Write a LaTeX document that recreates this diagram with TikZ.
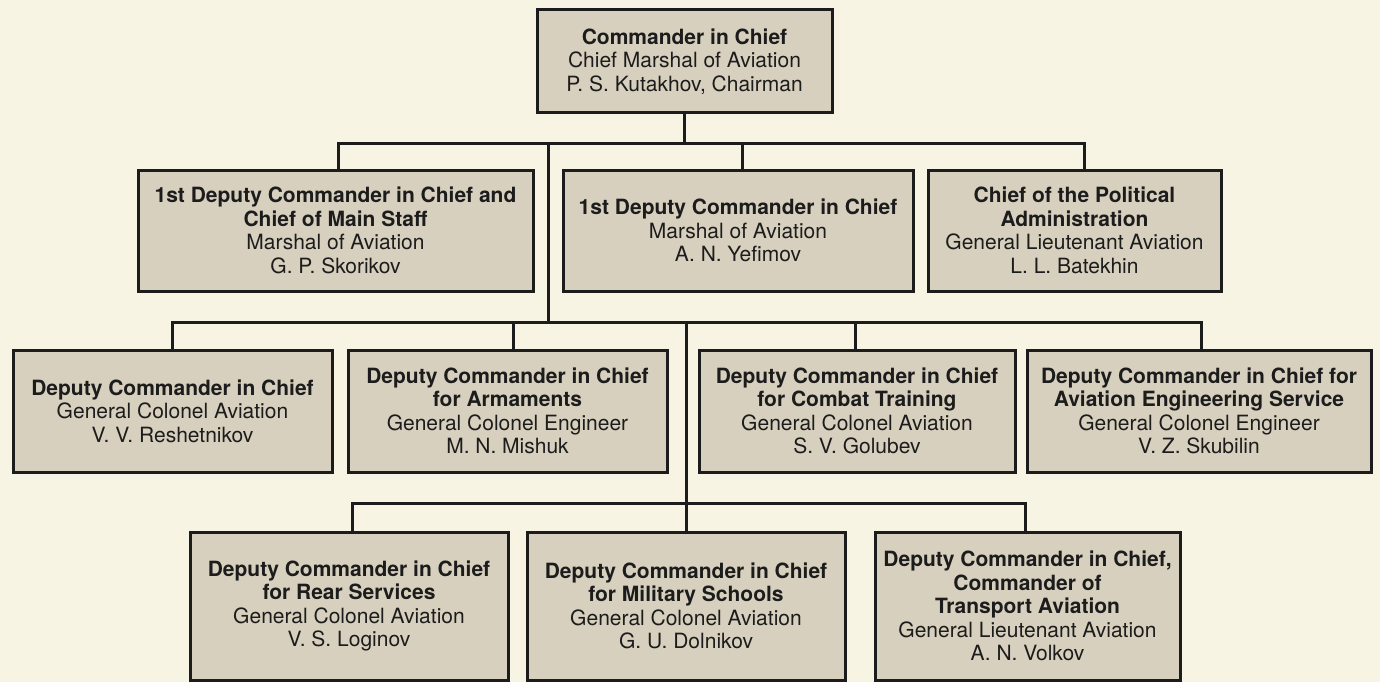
\documentclass[tikz,border=0pt]{standalone}
\usepackage{fontspec}
\setmainfont{TeX Gyre Heros}
\usepackage{tikz}
\definecolor{paper}{RGB}{248,244,228}
\definecolor{boxfill}{RGB}{215,208,190}
\definecolor{ink}{RGB}{28,28,28}

\begin{document}
\begin{tikzpicture}[x=1pt, y=-1pt, post/.style={rectangle, draw=ink, fill=boxfill, line width=3pt, inner sep=0pt, align=center, text=ink, font=\fontsize{21}{23.5}\selectfont}, rowtwo/.style={post, minimum height=121pt}, rowthree/.style={post, minimum height=122pt}, rowfour/.style={post, minimum height=148pt}, link/.style={draw=ink, line width=3pt}]

    %Background
    \fill[paper] (0,0) rectangle (1380,682);
    \useasboundingbox (0,0) rectangle (1380,682);

    %Nodes
    \node[post, minimum width=295pt, minimum height=103pt](chief) at (684.5,61.5){\textbf{Commander in Chief}\\Chief Marshal of Aviation\\P. S. Kutakhov, Chairman};
    \node[rowtwo, minimum width=395pt](staff) at (335.5,230.5){\textbf{1st Deputy Commander in Chief and}\\\textbf{Chief of Main Staff}\\Marshal of Aviation\\G. P. Skorikov};
    \node[rowtwo, minimum width=350pt](firstdep) at (738,230.5){\textbf{1st Deputy Commander in Chief}\\Marshal of Aviation\\A. N. Yefimov};
    \node[rowtwo, minimum width=293pt](polit) at (1074.5,230.5){\textbf{Chief of the Political}\\\textbf{Administration}\\General Lieutenant Aviation\\L. L. Batekhin};
    \node[rowthree, minimum width=319pt](deputy) at (172.5,411){\textbf{Deputy Commander in Chief}\\General Colonel Aviation\\V. V. Reshetnikov};
    \node[rowthree, minimum width=319pt](arms) at (507.5,411){\textbf{Deputy Commander in Chief}\\\textbf{for Armaments}\\General Colonel Engineer\\M. N. Mishuk};
    \node[rowthree, minimum width=316pt](combat) at (857,411){\textbf{Deputy Commander in Chief}\\\textbf{for Combat Training}\\General Colonel Aviation\\S. V. Golubev};
    \node[rowthree, minimum width=344pt](engin) at (1199,411){\textbf{Deputy Commander in Chief for}\\\textbf{Aviation Engineering Service}\\General Colonel Engineer\\V. Z. Skubilin};
    \node[rowfour, minimum width=318pt](rear) at (349,606){\textbf{Deputy Commander in Chief}\\\textbf{for Rear Services}\\General Colonel Aviation\\V. S. Loginov};
    \node[rowfour, minimum width=318pt](schools) at (686,606){\textbf{Deputy Commander in Chief}\\\textbf{for Military Schools}\\General Colonel Aviation\\G. U. Dolnikov};
    \node[rowfour, minimum width=305pt](transport) at (1027.5,606){\textbf{Deputy Commander in Chief,}\\\textbf{Commander of}\\\textbf{Transport Aviation}\\General Lieutenant Aviation\\A. N. Volkov};

    %Bus levels
    \coordinate (bus1) at (0,143);
    \coordinate (bus2) at (0,322);
    \coordinate (bus3) at (0,503);
    \coordinate (trunk) at (548,143);

    %Lines
    \draw[link] (chief.south) -- (chief.south |- bus1);
    \draw[link] ([xshift=2.5pt]staff.north) |- ([xshift=9.5pt]polit.north |- bus1) -- ([xshift=9.5pt]polit.north);
    \draw[link] ([xshift=4pt]firstdep.north) -- ([xshift=4pt]firstdep.north |- bus1);
    \draw[link] (trunk) -- (trunk |- bus2);
    \draw[link] (deputy.north) |- ([xshift=2pt]engin.north |- bus2) -- ([xshift=2pt]engin.north);
    \draw[link] ([xshift=5.5pt]arms.north) -- ([xshift=5.5pt]arms.north |- bus2);
    \draw[link] ([xshift=-2pt]combat.north) -- ([xshift=-2pt]combat.north |- bus2);
    \draw[link] (schools.north |- bus2) -- (schools.north);
    \draw[link] ([xshift=3pt]rear.north) |- ([xshift=-2.5pt]transport.north |- bus3) -- ([xshift=-2.5pt]transport.north);

\end{tikzpicture}
\end{document}
